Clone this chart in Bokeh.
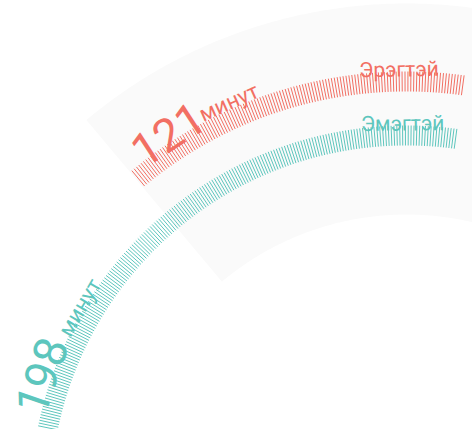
import numpy as np
from bokeh.plotting import figure
from bokeh.models import Range1d
from bokeh.core.properties import value
from bokeh.embed import file_html
from bokeh.resources import INLINE

# ---- data ----
categories = ["Эрэгтэй", "Эмэгтэй"]
minutes = [121, 198]
unit_label = "минут"

# ---- style ----
colors = ["#f26f63", "#5dc6bd"]
FONT = value("Roboto")
W, H = 472, 429
CX, CY = 406.0, H - 501.0        # arc centre (data units)
ring_inner = [410.0, 356.0]
ring_outer = [430.0, 376.0]
start_deg = 7.7                  # right end of the arcs (clockwise from up)
step_deg = [0.395, 0.437]        # angle between minute ticks
label_r = [432.0, 378.0]
label_theta = [-1.0, -0.6]
big_r = [438.0, 386.0]
num_theta = [-33.0, -71.0]
unit_r = [437.0, 380.0]
unit_theta = [-24.0, -59.3]

p = figure(width=W, height=H, x_range=Range1d(0, W), y_range=Range1d(0, H),
           output_backend="svg", toolbar_location=None, min_border=0)
p.axis.visible = False
p.grid.visible = False
p.outline_line_color = None
p.background_fill_color = "white"
p.border_fill_color = "white"


def pt(r, th_deg):
    t = np.radians(th_deg)
    return CX + r * np.sin(t), CY + r * np.cos(t)


# background sector
th = np.linspace(-40.0, 40.0, 200)
ox, oy = pt(498.0, th)
ix, iy = pt(287.0, th[::-1])
p.patch(np.concatenate([ox, ix]), np.concatenate([oy, iy]),
        fill_color="#fafafa", line_color=None)

for i, cat in enumerate(categories):
    n = minutes[i]
    k = np.arange(n)
    thetas = start_deg - k * step_deg[i]
    x0, y0 = pt(ring_inner[i], thetas)
    x1, y1 = pt(ring_outer[i], thetas)
    p.segment(x0, y0, x1, y1, line_color=colors[i], line_width=1.0)

    # category label at right end
    lx, ly = pt(label_r[i], label_theta[i])
    p.text([lx], [ly], text=[cat], angle=[-np.radians(label_theta[i])],
           text_font=FONT, text_font_size="21px", text_color=colors[i],
           text_align="center", text_baseline="alphabetic")

    # big number + unit along arc at the left end
    nx, ny = pt(big_r[i], num_theta[i])
    p.text([nx], [ny], text=[str(n)], angle=[-np.radians(num_theta[i])],
           text_font=FONT, text_font_size="46px", text_color=colors[i],
           text_align="center", text_baseline="alphabetic")
    ux, uy = pt(unit_r[i], unit_theta[i])
    p.text([ux], [uy], text=[unit_label], angle=[-np.radians(unit_theta[i])],
           text_font=FONT, text_font_size="22px", text_color=colors[i],
           text_align="center", text_baseline="alphabetic")

open("out.html", "w").write(file_html(p, INLINE))
